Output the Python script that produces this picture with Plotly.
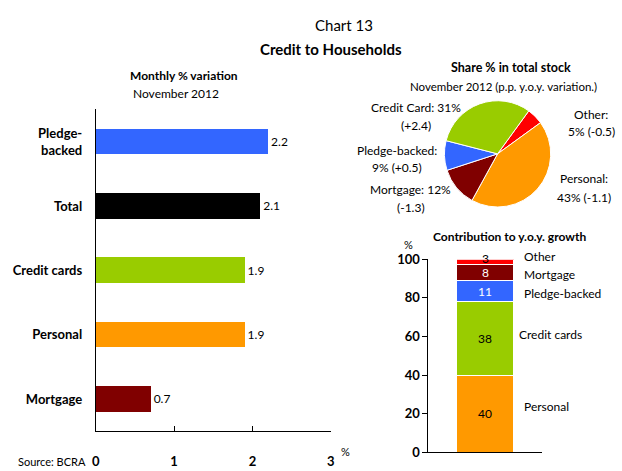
import plotly.graph_objects as go

W, H = 622, 471
FONT = "Lato"

# Monthly % variation, November 2012
bar_categories = ["Pledge-<br>backed", "Total", "Credit cards", "Personal", "Mortgage"]
bar_values = [2.2, 2.1, 1.9, 1.9, 0.7]
bar_colors = ["#3366FF", "#000000", "#99CC00", "#FF9900", "#800000"]
bar_ticks = [0, 1, 2, 3]

# Share % in total stock (p.p. y.o.y. variation)
pie_labels = ["Other", "Personal", "Mortgage", "Pledge-backed", "Credit Card"]
pie_values = [5, 43, 12, 9, 31]
pie_changes = ["-0.5", "-1.1", "-1.3", "+0.5", "+2.4"]
pie_colors = ["#FF0000", "#FF9900", "#800000", "#3366FF", "#99CC00"]

# Contribution to y.o.y. growth
stack_labels = ["Personal", "Credit cards", "Pledge-backed", "Mortgage", "Other"]
stack_values = [40, 38, 11, 8, 3]
stack_colors = ["#FF9900", "#99CC00", "#3366FF", "#800000", "#FF0000"]
stack_text_colors = ["#000000", "#000000", "#FFFFFF", "#FFFFFF", "#000000"]
stack_ticks = [0, 20, 40, 60, 80, 100]


def px_x(x):
    return x / W


def px_y(y):
    return 1 - y / H


fig = go.Figure()

# Horizontal bars
fig.add_trace(go.Bar(
    x=bar_values, y=bar_categories, orientation="h",
    marker=dict(color=bar_colors, line=dict(width=0)),
    width=0.4,
    text=[f"{v:.1f}" for v in bar_values], textposition="outside",
    textfont=dict(family=FONT, size=12, color="#000"),
    cliponaxis=False,
    xaxis="x", yaxis="y", showlegend=False, hoverinfo="skip",
))

# Pie
fig.add_trace(go.Pie(
    labels=pie_labels, values=pie_values, sort=False, direction="clockwise",
    rotation=36,
    marker=dict(colors=pie_colors, line=dict(color="white", width=1)),
    textinfo="none", showlegend=False, hoverinfo="skip",
    domain=dict(x=[px_x(445), px_x(555)], y=[px_y(206), px_y(96)]),
))

# Stacked column
for lab, val, col in zip(stack_labels, stack_values, stack_colors):
    fig.add_trace(go.Bar(
        x=[0], y=[val], name=lab, width=1.0,
        marker=dict(color=col, line=dict(color="white", width=1)),
        xaxis="x2", yaxis="y2", showlegend=False, hoverinfo="skip",
    ))

annotations = []

def note(text, x, y, size=12, bold=False, xanchor="center", color="#000"):
    if bold:
        text = f"<b>{text}</b>"
    annotations.append(dict(
        text=text, x=px_x(x), y=px_y(y), xref="paper", yref="paper",
        xanchor=xanchor, yanchor="middle", showarrow=False,
        font=dict(family=FONT, size=size, color=color),
    ))

# Titles
note("Chart 13", 344, 18, size=15)
note("Credit to Households", 331, 42, size=15, bold=True)
note("Monthly % variation", 182, 70, size=12, bold=True)
note("November 2012", 174, 88, size=12)
note("Share % in total stock", 514, 62, size=12.5, bold=True)
note("November 2012 (p.p. y.o.y. variation.)", 506, 81, size=11.5)
note("Contribution to y.o.y. growth", 512, 237, size=12, bold=True)

# Pie labels
pie_label_pos = {
    "Other": (595, 110, 128, "Other:", "5% ({c})"),
    "Personal": (588, 177, 196, "Personal:", "43% ({c})"),
    "Mortgage": (412, 188, 206, "Mortgage: 12%", "({c})"),
    "Pledge-backed": (398, 147, 165, "Pledge-backed:", "9% ({c})"),
    "Credit Card": (417, 103, 122, "Credit Card: 31%", "({c})"),
}
for lab, val, chg in zip(pie_labels, pie_values, pie_changes):
    x, y1, y2, l1, l2 = pie_label_pos[lab]
    note(l1, x, y1, size=12)
    note(l2.format(c=chg), x, y2, size=12)

# Stacked column value labels (thin segments get their label lifted a little)
cum = 0
for lab, val, tcol in zip(stack_labels, stack_values, stack_text_colors):
    mid = cum + val / 2
    annotations.append(dict(
        text=str(val), x=0, y=mid, xref="x2", yref="y2",
        yshift=4 if val < 5 else 0,
        showarrow=False, font=dict(family=FONT, size=12, color=tcol),
    ))
    cum += val

stack_name_pos = {
    "Other": (525, 257), "Mortgage": (525, 276), "Pledge-backed": (525, 296),
    "Credit cards": (520, 338), "Personal": (525, 413),
}
for lab in stack_labels:
    x, y = stack_name_pos[lab]
    note(lab, x, y, size=12, xanchor="left")

note("%", 410, 245, size=11)
note("%", 346, 459, size=11)
note("Source: BCRA", 12, 469, size=11, xanchor="left")

axis_font = dict(family=FONT, size=13, color="#000")

fig.update_layout(
    width=W, height=H,
    margin=dict(l=0, r=0, t=0, b=0),
    paper_bgcolor="white", plot_bgcolor="white",
    barmode="stack",
    font=dict(family=FONT, color="#000"),
    annotations=annotations,
    xaxis=dict(
        domain=[px_x(93), px_x(331)], range=[0, 3], anchor="y",
        tickvals=bar_ticks, ticktext=[f"<b>{t}</b>" for t in bar_ticks],
        ticks="inside", ticklen=5, tickcolor="#000", tickwidth=1,
        showline=True, linecolor="#000", linewidth=1,
        showgrid=False, zeroline=False, tickfont=axis_font,
        ticklabelstandoff=18, fixedrange=True,
    ),
    yaxis=dict(
        domain=[px_y(438), px_y(105)], anchor="x",
        type="category", categoryarray=bar_categories, range=[4.5, -0.5],
        tickvals=bar_categories, ticktext=[f"<b>{c}</b>" for c in bar_categories],
        ticks="", showline=True, linecolor="#000", linewidth=1,
        showgrid=False, zeroline=False, tickfont=axis_font,
        ticklabelstandoff=10, fixedrange=True,
    ),
    xaxis2=dict(
        domain=[px_x(430), px_x(545)], range=[-1, 1], anchor="y2",
        showticklabels=False, ticks="", showline=True, linecolor="#000",
        linewidth=1, showgrid=False, zeroline=False, fixedrange=True,
    ),
    yaxis2=dict(
        domain=[px_y(460), px_y(260)], range=[0, 100], anchor="x2",
        tickvals=stack_ticks, ticktext=[f"<b>{t}</b>" for t in stack_ticks],
        ticks="outside", ticklen=5, tickcolor="#000",
        showline=True, linecolor="#000", linewidth=1,
        showgrid=False, zeroline=False, tickfont=axis_font, fixedrange=True,
    ),
)

fig.write_html("out.html")
